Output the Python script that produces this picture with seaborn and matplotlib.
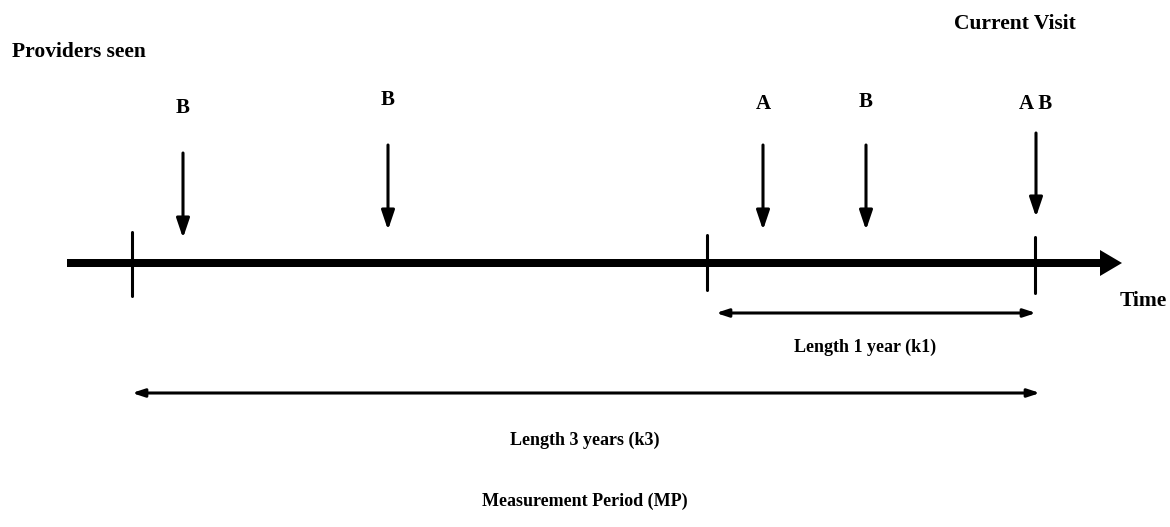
import matplotlib
matplotlib.use('Agg')
import matplotlib.pyplot as plt
import seaborn as sns
import pandas as pd

# Timeline geometry (pixel-like diagram units)
event_x = [183, 388, 763, 866, 1036]
event_top = [153, 145, 145, 145, 133]
event_bottom = [238, 230, 230, 230, 217]
event_labels = ['B', 'B', 'A', 'B', 'A B']
label_y = [108, 100, 104, 102, 104]

period_ticks = [132, 707, 1035]
tick_top = [232, 235, 237]
tick_bottom = [296, 290, 293]

axis_start, axis_end, axis_y = 67, 1122, 263

spans = [(716, 1036, 313, 'Length 1 year (k1)', 865, 347),
         (132, 1040, 393, 'Length 3 years (k3)', 585, 440)]

sns.set_theme(style='white')
plt.rcParams['font.family'] = ['Liberation Serif', 'DejaVu Serif']
plt.rcParams['text.color'] = 'black'

fig = plt.figure(figsize=(11.7, 5.27), dpi=100)
ax = fig.add_axes([0, 0, 1, 1])

# main time axis
ax.arrow(axis_start, axis_y, axis_end - axis_start, 0, width=8, head_width=26,
         head_length=22, length_includes_head=True, color='black', lw=0)

# period boundary ticks
ticks_df = pd.DataFrame({
    'x': [x for x in period_ticks for _ in range(2)],
    'y': [v for t, b in zip(tick_top, tick_bottom) for v in (t, b)],
    'id': [i for i in range(len(period_ticks)) for _ in range(2)],
})
sns.lineplot(data=ticks_df, x='x', y='y', units='id', estimator=None,
             color='black', lw=2.2, sort=False, ax=ax)
ax.set_xlim(0, 1170)
ax.set_ylim(527, 0)
ax.axis('off')

# visit arrows and provider labels
for x, t, b, lab, ly in zip(event_x, event_top, event_bottom, event_labels, label_y):
    ax.annotate('', xy=(x, b), xytext=(x, t),
                arrowprops=dict(arrowstyle='-|>,head_length=0.65,head_width=0.22',
                                lw=2.2, color='black', shrinkA=0, shrinkB=0,
                                mutation_scale=18))
    ax.text(x, ly, lab, ha='center', va='center', fontsize=15, fontweight='bold')

# length spans
for x0, x1, y, lab, tx, ty in spans:
    ax.annotate('', xy=(x1, y), xytext=(x0, y),
                arrowprops=dict(arrowstyle='<|-|>,head_length=0.55,head_width=0.18',
                                lw=2.2, color='black', shrinkA=0, shrinkB=0,
                                mutation_scale=13))
    ax.text(tx, ty, lab, ha='center', va='center', fontsize=13, fontweight='bold')

ax.text(12, 52, 'Providers seen', ha='left', va='center', fontsize=15.5, fontweight='bold')
ax.text(1015, 24, 'Current Visit', ha='center', va='center', fontsize=15.5, fontweight='bold')
ax.text(1143, 301, 'Time', ha='center', va='center', fontsize=15.5, fontweight='bold')
ax.text(585, 501, 'Measurement Period (MP)', ha='center', va='center', fontsize=13,
        fontweight='bold')

fig.savefig('out.png', dpi=100)
